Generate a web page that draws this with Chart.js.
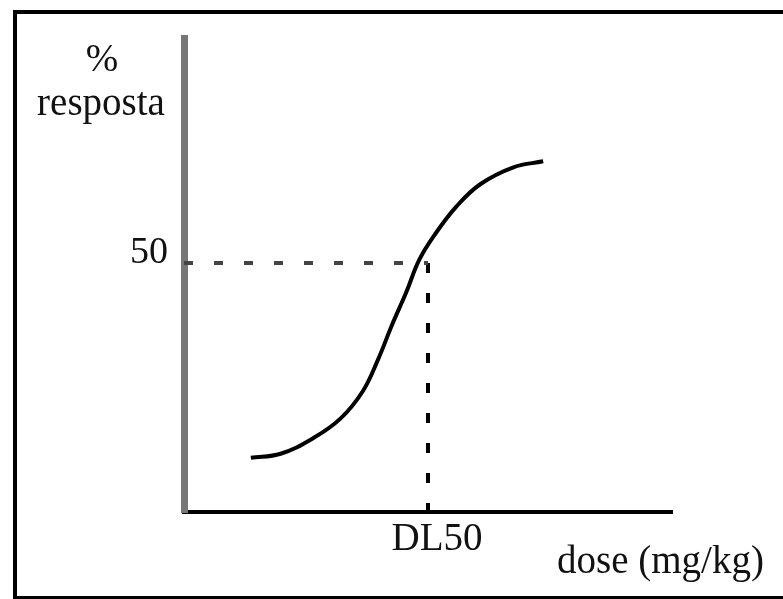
<!DOCTYPE html>
<html>
<head>
<meta charset="utf-8">
<script src="https://cdn.jsdelivr.net/npm/chart.js@4"></script>
<style>
  html, body { margin: 0; padding: 0; background: #fff; }
  #wrap { position: relative; width: 783px; height: 599px; overflow: hidden; }
  #frame {
    position: absolute; left: 13px; top: 10px; width: 775px; height: 582px;
    border-top: 4px solid #000; border-left: 4px solid #000; border-bottom: 3px solid #000;
    pointer-events: none;
  }
</style>
</head>
<body>
<div id="wrap">
  <canvas id="doseChart" width="783" height="599"></canvas>
  <div id="frame"></div>
</div>
<script>
  // curve (dose in axis units, % resposta)
  const doses = [13.7, 19.8, 26.6, 32.1, 36.6, 39.8, 42.6, 45.5, 48.2, 51.4, 55.8, 60.7, 67.5, 73.6];
  const respostas = [10.9, 11.7, 14.9, 18.8, 24.2, 30.7, 37.5, 44.0, 50.6, 55.7, 61.3, 65.8, 69.2, 70.4];

  const dl50 = 50;
  const resp50 = 50;
  const yTickValues = [50];
  const yTickLabels = ['50'];
  const xTickValues = [50];
  const xTickLabels = ['DL50'];

  const serif = "'Liberation Serif', 'DejaVu Serif', serif";
  const textColor = '#111';

  const curve = doses.map((d, i) => ({ x: d, y: respostas[i] }));

  // free text around the axes
  const axisTexts = {
    id: 'axisTexts',
    afterDraw(chart) {
      const ctx = chart.ctx;
      ctx.save();
      ctx.fillStyle = textColor;
      ctx.font = '39px ' + serif;
      ctx.textAlign = 'center';
      ctx.textBaseline = 'alphabetic';
      ctx.fillText('%', 102, 71);
      ctx.fillText('resposta', 101, 115);
      ctx.textAlign = 'left';
      ctx.fillText('dose (mg/kg)', 557, 573);
      ctx.restore();
    }
  };

  window.onload = () => {
    const ctx = document.getElementById('doseChart').getContext('2d');
    window.doseChart = new Chart(ctx, {
      type: 'scatter',
      data: {
        datasets: [
          {
            data: [{ x: 0, y: resp50 }, { x: dl50, y: resp50 }],
            showLine: true,
            borderColor: '#444',
            borderWidth: 4,
            borderDash: [9, 21],
            pointRadius: 0
          },
          {
            data: [{ x: dl50, y: resp50 }, { x: dl50, y: 0 }],
            showLine: true,
            borderColor: '#000',
            borderWidth: 4,
            borderDash: [10, 20],
            pointRadius: 0
          },
          {
            data: curve,
            showLine: true,
            borderColor: '#000',
            borderWidth: 4,
            tension: 0.4,
            pointRadius: 0
          }
        ]
      },
      options: {
        responsive: false,
        animation: false,
        layout: { padding: { left: 0, right: 111, top: 33, bottom: 0 } },
        plugins: { legend: { display: false }, tooltip: { enabled: false } },
        scales: {
          x: {
            type: 'linear',
            min: 0,
            max: 100,
            grid: { display: false, drawTicks: false },
            border: { display: true, color: '#000', width: 4 },
            afterFit: s => { s.height = 87; },
            afterBuildTicks: s => { s.ticks = xTickValues.map(v => ({ value: v })); },
            ticks: {
              color: textColor,
              font: { family: serif, size: 39 },
              padding: 4,
              labelOffset: 9,
              maxRotation: 0,
              autoSkip: false,
              callback: (v, i) => xTickLabels[i]
            }
          },
          y: {
            type: 'linear',
            min: 0,
            max: 95,
            grid: { display: false, drawTicks: false },
            border: { display: true, color: '#777', width: 7 },
            afterFit: s => { s.width = 184; },
            afterBuildTicks: s => { s.ticks = yTickValues.map(v => ({ value: v })); },
            ticks: {
              color: textColor,
              font: { family: serif, size: 38 },
              padding: 16,
              labelOffset: -10,
              autoSkip: false,
              callback: (v, i) => yTickLabels[i]
            }
          }
        }
      },
      plugins: [axisTexts]
    });
  };
</script>
</body>
</html>
